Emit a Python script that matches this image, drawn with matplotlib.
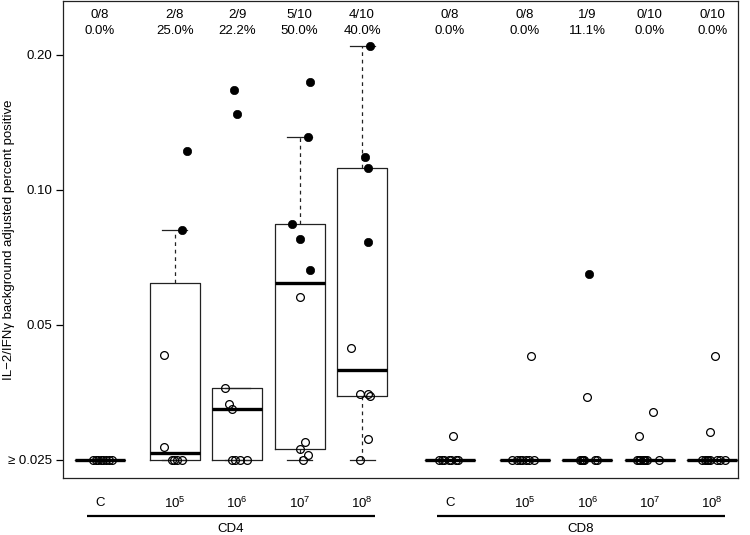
import numpy as np
import matplotlib
matplotlib.use("Agg")
import matplotlib.pyplot as plt
from matplotlib.ticker import NullLocator, FixedLocator, FixedFormatter

plt.rcParams['font.family'] = ['Liberation Sans', 'DejaVu Sans']
plt.rcParams['mathtext.fontset'] = 'custom'
plt.rcParams['mathtext.rm'] = 'Liberation Sans'
plt.rcParams['mathtext.it'] = 'Liberation Sans:italic'

# ---------------- data ----------------
group_labels = ['C', '10^5', '10^6', '10^7', '10^8', 'C', '10^5', '10^6', '10^7', '10^8']
cell_types = ['CD4', 'CD8']

cd4_c   = [0.025] * 8
cd4_e5  = [0.122, 0.0814, 0.0429, 0.0267, 0.025, 0.025, 0.025, 0.025]
cd4_e6  = [0.167, 0.148, 0.0362, 0.0333, 0.0325, 0.025, 0.025, 0.025, 0.025]
cd4_e7  = [0.174, 0.131, 0.084, 0.0778, 0.0663, 0.0577, 0.0274, 0.0265, 0.0256, 0.025]
cd4_e8  = [0.2095, 0.1185, 0.112, 0.0766, 0.0444, 0.0351, 0.0351, 0.0348, 0.0278, 0.025]
cd8_c   = [0.0283] + [0.025] * 7
cd8_e5  = [0.0427] + [0.025] * 7
cd8_e6  = [0.065, 0.0346] + [0.025] * 7
cd8_e7  = [0.032, 0.0283] + [0.025] * 8
cd8_e8  = [0.0427, 0.0289] + [0.025] * 8

# positivity calls (1 = positive, filled dot)
pos_cd4_c  = [0] * 8
pos_cd4_e5 = [1, 1, 0, 0, 0, 0, 0, 0]
pos_cd4_e6 = [1, 1, 0, 0, 0, 0, 0, 0, 0]
pos_cd4_e7 = [1, 1, 1, 1, 1, 0, 0, 0, 0, 0]
pos_cd4_e8 = [1, 1, 1, 1, 0, 0, 0, 0, 0, 0]
pos_cd8_c  = [0] * 8
pos_cd8_e5 = [0] * 8
pos_cd8_e6 = [1] + [0] * 8
pos_cd8_e7 = [0] * 10
pos_cd8_e8 = [0] * 10

values = [cd4_c, cd4_e5, cd4_e6, cd4_e7, cd4_e8, cd8_c, cd8_e5, cd8_e6, cd8_e7, cd8_e8]
positives = [pos_cd4_c, pos_cd4_e5, pos_cd4_e6, pos_cd4_e7, pos_cd4_e8,
             pos_cd8_c, pos_cd8_e5, pos_cd8_e6, pos_cd8_e7, pos_cd8_e8]

# ---------------- layout ----------------
positions = [1, 2.2, 3.2, 4.2, 5.2, 6.61, 7.81, 8.81, 9.81, 10.81]
jitter = [
    [-0.12, -0.07, -0.03, 0.01, 0.05, 0.09, 0.14, 0.19],
    [0.19, 0.12, -0.18, -0.17, -0.05, -0.01, 0.03, 0.11],
    [-0.06, 0.0, -0.19, -0.13, -0.09, -0.08, -0.04, 0.04, 0.16],
    [0.16, 0.13, -0.12, 0.0, 0.17, 0.0, 0.08, 0.0, 0.14, 0.06],
    [0.13, 0.05, 0.10, 0.09, -0.17, -0.04, 0.09, 0.12, 0.09, -0.03],
    [0.05, -0.18, -0.13, -0.10, -0.02, 0.02, 0.10, 0.13],
    [0.09, -0.20, -0.13, -0.08, -0.04, 0.01, 0.06, 0.14],
    [0.02, -0.01, -0.11, -0.09, -0.08, -0.07, -0.06, 0.13, 0.15],
    [0.05, -0.18, -0.21, -0.18, -0.15, -0.11, -0.10, -0.08, -0.05, 0.14],
    [0.05, -0.04, -0.16, -0.12, -0.09, -0.06, -0.03, 0.08, 0.13, 0.20],
]
ytick_vals = [0.025, 0.05, 0.10, 0.20]
ytick_labels = ['\u2265 0.025', '0.05', '0.10', '0.20']


def fivenum(x):
    x = np.sort(np.asarray(x, float))
    n = len(x)
    n4 = np.floor((n + 3) / 2) / 2
    d = np.array([1, n4, (n + 1) / 2, n + 1 - n4, n])
    return 0.5 * (x[np.floor(d).astype(int) - 1] + x[np.ceil(d).astype(int) - 1])


def box_stats(x):
    f = fivenum(x)
    iqr = f[3] - f[1]
    arr = np.asarray(x, float)
    lo = arr[arr >= f[1] - 1.5 * iqr].min()
    hi = arr[arr <= f[3] + 1.5 * iqr].max()
    return dict(med=f[2], q1=f[1], q3=f[3], whislo=lo, whishi=hi, fliers=[])


fig = plt.figure(figsize=(7.5, 5.35), dpi=100)
ax = fig.add_axes([63 / 750, 1 - 478 / 535, 675 / 750, 477 / 535])
ax.set_yscale('log')

stats = [box_stats(v) for v in values]
ax.bxp(stats, positions=positions, widths=0.8, capwidths=0.4,
       showfliers=False, patch_artist=False,
       boxprops=dict(color='#222222', lw=0.9),
       medianprops=dict(color='black', lw=2.4, solid_capstyle='butt'),
       whiskerprops=dict(color='#222222', lw=0.9, linestyle=(0, (3, 3))),
       capprops=dict(color='#222222', lw=0.9))

for p, vals, pos, jit in zip(positions, values, positives, jitter):
    vals = np.asarray(vals)
    pos = np.asarray(pos, bool)
    xs = p + np.asarray(jit)
    ax.plot(xs[~pos], vals[~pos], 'o', ms=5.6, mfc='none', mec='black', mew=0.9, zorder=5)
    ax.plot(xs[pos], vals[pos], 'o', ms=6.0, mfc='black', mec='black', mew=0.5, zorder=5)

ax.set_xlim(0.407, 11.224)
ax.set_ylim(0.02279, 0.2639)
ax.yaxis.set_major_locator(FixedLocator(ytick_vals))
ax.yaxis.set_major_formatter(FixedFormatter(ytick_labels))
ax.yaxis.set_minor_locator(NullLocator())
ax.set_xticks([])
ax.tick_params(axis='y', length=5, width=0.9, pad=3, labelsize=9.5)
for s in ax.spines.values():
    s.set_linewidth(0.9)
    s.set_color('#222222')

ax.set_ylabel('IL\u22122/IFN\u03b3 background adjusted percent positive', fontsize=9.5)
ax.yaxis.set_label_coords(-0.071, 0.5)

tx = ax.get_xaxis_transform()
# top count / percentage labels
for p, pos in zip(positions, positives):
    k, n = int(sum(pos)), len(pos)
    ax.text(p, (478 - 15) / 477, f'{k}/{n}', transform=tx, ha='center', va='center', fontsize=9.5)
    ax.text(p, (478 - 31) / 477, f'{100 * k / n:.1f}%', transform=tx, ha='center', va='center', fontsize=9.5)

# bottom category labels
for p, lab in zip(positions, group_labels):
    txt = lab if lab == 'C' else r'$\mathregular{' + lab.replace('^', '^{') + '}}$'
    ax.text(p, (478 - 503) / 477, txt, transform=tx, ha='center', va='center', fontsize=9.5)

# group lines and names
for g, name in enumerate(cell_types):
    x0 = positions[5 * g] - 0.21
    x1 = positions[5 * g + 4] + 0.21
    ax.plot([x0, x1], [(478 - 516) / 477] * 2, transform=tx, color='black', lw=1.6, clip_on=False,
            solid_capstyle='butt')
    ax.text((x0 + x1) / 2, (478 - 529) / 477, name, transform=tx, ha='center', va='center', fontsize=9.5)

fig.savefig('out.png', dpi=100)
